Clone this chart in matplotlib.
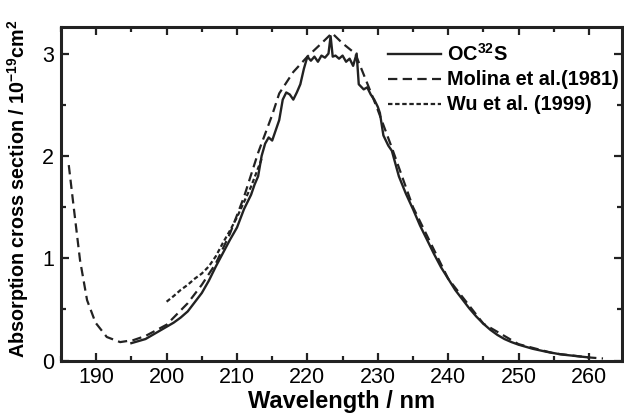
import matplotlib
matplotlib.use("Agg")
import matplotlib.pyplot as plt
from matplotlib.ticker import MultipleLocator

plt.rcParams['font.family'] = ['Liberation Sans', 'DejaVu Sans']
plt.rcParams['mathtext.fontset'] = 'custom'
plt.rcParams['mathtext.rm'] = 'Liberation Sans'
plt.rcParams['mathtext.bf'] = 'Liberation Sans:bold'

# OC32S (this work)
ocs_wl = [195.0, 196, 197, 198, 199, 200, 201, 202, 203, 204, 205, 206, 207, 208, 209, 210,
          211, 212, 212.5, 213, 213.5, 214, 214.5, 215, 215.5, 216, 216.5, 217, 217.5, 218,
          218.5, 219, 219.5, 220, 220.5, 221, 221.5, 222, 222.5, 223, 223.3, 223.6, 224,
          224.5, 225, 225.5, 226, 226.5, 227, 227.3, 228, 228.5, 229, 229.5, 230, 230.3,
          230.8, 231.5, 232, 233, 234, 235, 236, 237, 238, 239, 240, 241, 242, 243, 244,
          245, 246, 247, 248, 249, 250, 252, 254, 256, 258, 260]
ocs_val = [0.17, 0.19, 0.21, 0.25, 0.29, 0.33, 0.37, 0.42, 0.48, 0.57, 0.66, 0.78, 0.92, 1.05,
           1.18, 1.30, 1.48, 1.62, 1.72, 1.80, 2.00, 2.12, 2.18, 2.15, 2.25, 2.35, 2.55, 2.62,
           2.60, 2.55, 2.62, 2.70, 2.85, 2.97, 2.93, 2.97, 2.92, 2.98, 2.96, 3.00, 3.17, 2.97,
           2.98, 2.95, 2.98, 2.92, 2.95, 2.88, 3.00, 2.70, 2.65, 2.67, 2.60, 2.55, 2.48, 2.42,
           2.20, 2.10, 2.05, 1.80, 1.63, 1.48, 1.32, 1.18, 1.04, 0.91, 0.80, 0.69, 0.60, 0.51,
           0.43, 0.36, 0.30, 0.25, 0.21, 0.18, 0.155, 0.115, 0.085, 0.06, 0.045, 0.03]

# Molina et al. (1981)
mol_wl = [186.1, 186.8, 187.7, 188.7, 189.9, 191.5, 193.4, 195.3, 197, 200, 203, 205, 207,
          209, 211, 213, 215, 216, 218, 220, 222, 223.5, 225, 226.8, 228.5, 230, 232, 235,
          240, 245, 250, 255, 260, 262]
mol_val = [1.91, 1.50, 0.98, 0.59, 0.37, 0.23, 0.18, 0.20, 0.24, 0.35, 0.56, 0.74, 0.95,
           1.24, 1.60, 2.03, 2.40, 2.61, 2.82, 2.97, 3.10, 3.20, 3.10, 3.00, 2.71, 2.45, 2.08,
           1.50, 0.80, 0.36, 0.16, 0.07, 0.03, 0.02]

# Wu et al. (1999)
wu_wl = [200.0, 201, 202, 203, 204, 205, 206, 207, 208, 209, 210, 211, 212, 213, 213.5]
wu_val = [0.575, 0.63, 0.69, 0.74, 0.80, 0.85, 0.92, 1.02, 1.15, 1.27, 1.40, 1.55, 1.70, 1.88, 1.97]

x_major = [190, 200, 210, 220, 230, 240, 250, 260]
y_major = [0, 1, 2, 3]

fig = plt.figure(figsize=(6.24, 4.18), dpi=100)
ax = fig.add_axes([0.0978, 0.1375, 0.8990, 0.7980])

c = '#222222'
ax.plot(mol_wl, mol_val, color=c, lw=1.6, dashes=(4.2, 2.4), label='Molina et al.(1981)', zorder=2)
ax.plot(wu_wl, wu_val, color=c, lw=1.6, dashes=(2.0, 1.2), label='Wu et al. (1999)', zorder=2)
ax.plot(ocs_wl, ocs_val, color=c, lw=1.7, label=r'OC$\mathbf{^{32}}$S', zorder=3)

ax.set_xlim(185, 264.7)
ax.set_ylim(0, 3.26)
ax.set_xticks(x_major)
ax.set_yticks(y_major)
ax.xaxis.set_minor_locator(MultipleLocator(5))
ax.yaxis.set_minor_locator(MultipleLocator(0.5))
ax.tick_params(which='both', direction='in', top=True, right=True, width=1.6, colors=c,
               labelsize=15.5, labelcolor='black')
ax.tick_params(which='major', length=6, pad=5)
ax.tick_params(which='minor', length=3.5)
for s in ax.spines.values():
    s.set_linewidth(2.2)
    s.set_color(c)

ax.set_xlabel('Wavelength / nm', fontsize=17, fontweight='bold', labelpad=1)
ax.set_ylabel(r'Absorption cross section / 10$\mathbf{^{-19}}$cm$\mathbf{^{2}}$',
              fontsize=14.2, fontweight='bold')
ax.yaxis.set_label_coords(-0.054, 0.515)

handles, labels = ax.get_legend_handles_labels()
order = [2, 0, 1]
leg = ax.legend([handles[i] for i in order], [labels[i] for i in order],
                loc='upper right', bbox_to_anchor=(0.995, 0.953), frameon=False,
                borderpad=0, borderaxespad=0, handlelength=2.7, handletextpad=0.3,
                labelspacing=0.3, prop={'weight': 'bold', 'size': 14.3})

fig.savefig('out.png', dpi=100)
